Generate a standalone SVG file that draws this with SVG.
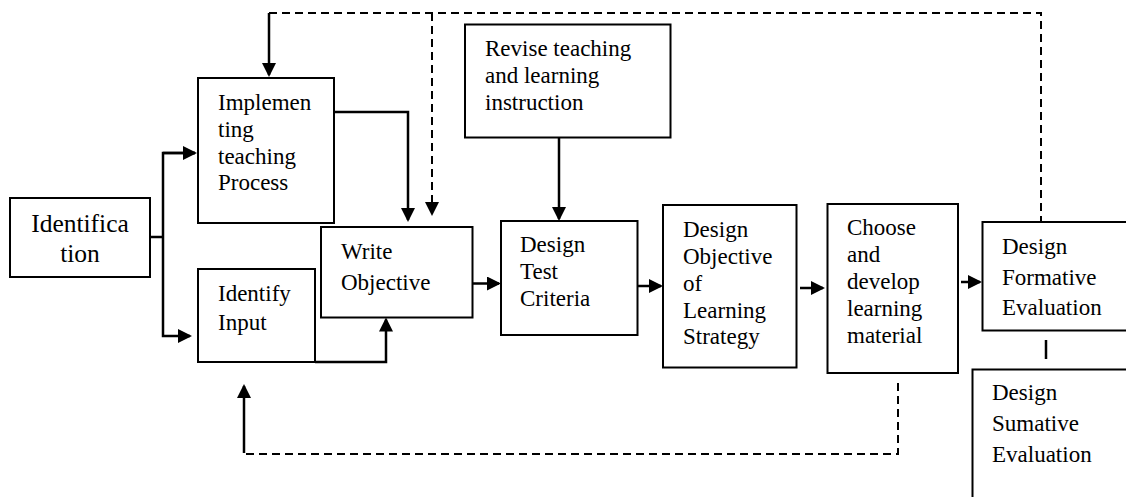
<svg xmlns="http://www.w3.org/2000/svg" width="1126" height="497" viewBox="0 0 1126 497">
<style>
.box{fill:#fff;stroke:#000;stroke-width:2}
.t{font-family:"Liberation Serif","Times New Roman",serif;font-size:23px;fill:#000}
.big{font-size:25.5px}
.ln{fill:none;stroke:#000;stroke-width:2.5}
.dash{fill:none;stroke:#000;stroke-width:2;stroke-dasharray:8 5}
</style>
<defs>
<marker id="ah" markerUnits="userSpaceOnUse" markerWidth="14" markerHeight="14" refX="12" refY="7" orient="auto">
<path d="M0,0 L14,7 L0,14 z" fill="#000"/>
</marker>
</defs>
<rect width="1126" height="497" fill="#fff"/>

<g id="connectors">
<path class="dash" d="M269,13 H1041 V221"/>
<path class="dash" d="M432,13 V214" marker-end="url(#ah)"/>
<path class="ln" d="M269,13 V75" marker-end="url(#ah)"/>
<path class="ln" d="M150,237 H163"/>
<path class="ln" d="M195,153 H163 V336 H190" marker-end="url(#ah)"/>
<path class="ln" d="M163,153 H195" marker-end="url(#ah)"/>
<path class="ln" d="M334,112 H408 V220" marker-end="url(#ah)"/>
<path class="ln" d="M559,138 V219" marker-end="url(#ah)"/>
<path class="ln" d="M473,283.5 H499" marker-end="url(#ah)"/>
<path class="ln" d="M638,286 H661" marker-end="url(#ah)"/>
<path class="ln" d="M800,288 H823" marker-end="url(#ah)"/>
<path class="ln" d="M961,282 H980" marker-end="url(#ah)"/>
<path class="ln" d="M1046,340 V359"/>
<path class="ln" d="M315,362 H386 V319.5" marker-end="url(#ah)"/>
<path class="dash" d="M898,383 V454 H244"/>
<path class="ln" d="M244,453 V386" marker-end="url(#ah)"/>
</g>

<g id="identification">
<rect class="box" x="10" y="198" width="140" height="79"/>
<text class="t big" x="80" y="232" text-anchor="middle">Identifica</text>
<text class="t big" x="80" y="262" text-anchor="middle">tion</text>
</g>

<g id="implementing">
<rect class="box" x="198" y="78" width="136" height="145"/>
<text class="t" x="218" y="110">Implemen</text>
<text class="t" x="218" y="137">ting</text>
<text class="t" x="218" y="164">teaching</text>
<text class="t" x="218" y="190">Process</text>
</g>

<g id="identify-input">
<rect class="box" x="198" y="269" width="117" height="93"/>
<text class="t" x="218" y="300.5">Identify</text>
<text class="t" x="218" y="330">Input</text>
</g>

<g id="write-objective">
<rect class="box" x="321" y="227" width="151.5" height="90.5"/>
<text class="t" x="341" y="259">Write</text>
<text class="t" x="341" y="289.5">Objective</text>
</g>

<g id="revise">
<rect class="box" x="465" y="24.5" width="205.5" height="113"/>
<text class="t" x="485" y="56">Revise teaching</text>
<text class="t" x="485" y="83">and learning</text>
<text class="t" x="485" y="110">instruction</text>
</g>

<g id="design-test">
<rect class="box" x="501" y="221" width="136.5" height="114"/>
<text class="t" x="520" y="252">Design</text>
<text class="t" x="520" y="279">Test</text>
<text class="t" x="520" y="306">Criteria</text>
</g>

<g id="design-objective">
<rect class="box" x="663" y="205" width="133.5" height="162.5"/>
<text class="t" x="683" y="236.5">Design</text>
<text class="t" x="683" y="263.5">Objective</text>
<text class="t" x="683" y="290.5">of</text>
<text class="t" x="683" y="317.5">Learning</text>
<text class="t" x="683" y="344">Strategy</text>
</g>

<g id="choose">
<rect class="box" x="827.5" y="204" width="130.5" height="169"/>
<text class="t" x="847" y="235">Choose</text>
<text class="t" x="847" y="262">and</text>
<text class="t" x="847" y="289">develop</text>
<text class="t" x="847" y="316">learning</text>
<text class="t" x="847" y="342.5">material</text>
</g>

<g id="formative">
<rect class="box" x="982.5" y="222" width="160" height="108.5"/>
<text class="t" x="1002" y="254">Design</text>
<text class="t" x="1002" y="285">Formative</text>
<text class="t" x="1002" y="315">Evaluation</text>
</g>

<g id="sumative">
<rect class="box" x="972.5" y="369.5" width="170" height="140"/>
<text class="t" x="992" y="400">Design</text>
<text class="t" x="992" y="431">Sumative</text>
<text class="t" x="992" y="461.5">Evaluation</text>
</g>
</svg>
